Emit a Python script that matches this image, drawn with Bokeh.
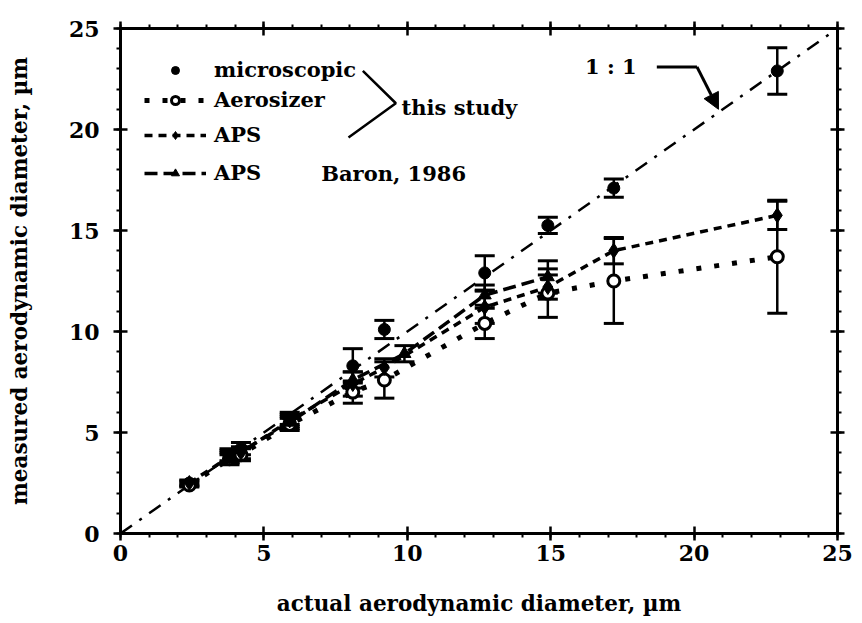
from bokeh.plotting import figure
from bokeh.models import (ColumnDataSource, Whisker, TeeHead, Legend, LegendItem,
                          Arrow, NormalHead, LinearAxis, Range1d, SingleIntervalTicker,
                          CustomJSTickFormatter)
from bokeh.core.properties import value
from bokeh.embed import file_html
from bokeh.resources import INLINE

# ---------------- data ----------------
x_actual = [2.4, 3.8, 4.2, 5.9, 8.1, 9.2, 12.7, 14.9, 17.2, 22.9]
micro_y = [2.5, 3.9, 4.2, 5.7, 8.3, 10.1, 12.9, 15.25, 17.1, 22.9]
micro_err = [0.15, 0.3, 0.3, 0.3, 0.85, 0.45, 0.85, 0.4, 0.45, 1.15]
aero_y = [2.4, 3.7, 3.9, 5.4, 7.0, 7.6, 10.4, 11.9, 12.5, 13.7]
aero_err = [0.1, 0.3, 0.3, 0.3, 0.55, 0.9, 0.75, 1.2, 2.1, 2.8]
aps_y = [2.5, 3.8, 4.0, 5.6, 7.4, 8.2, 11.2, 12.2, 14.0, 15.75]
aps_err = [0.1, 0.3, 0.3, 0.3, 0.6, 0.45, 0.8, 0.6, 0.65, 0.7]
baron_x = [3.8, 5.9, 8.1, 9.9, 12.7, 14.9]
baron_y = [3.7, 5.5, 7.6, 8.9, 11.8, 12.7]
baron_err = [0.2, 0.3, 0.4, 0.4, 0.5, 0.8]
one_to_one = [0, 25]

x_label = "actual aerodynamic diameter, µm"
y_label = "measured aerodynamic diameter, µm"

FONT = "DejaVu Serif"

p = figure(width=862, height=623, output_backend="svg", toolbar_location=None,
           x_range=Range1d(0, 25), y_range=Range1d(0, 25),
           min_border_left=120, min_border_right=25, min_border_top=28, min_border_bottom=90)
p.grid.visible = False
p.outline_line_color = None
p.background_fill_color = "white"
p.border_fill_color = "white"

def style_axis(ax, labels=True):
    ax.ticker = SingleIntervalTicker(interval=5, num_minor_ticks=5)
    ax.axis_line_width = 3
    ax.axis_line_color = "black"
    ax.major_tick_line_width = 2.5
    ax.minor_tick_line_width = 2
    ax.major_tick_in = 7
    ax.major_tick_out = 7
    ax.minor_tick_in = 0
    ax.minor_tick_out = 4
    ax.major_label_text_font = FONT
    ax.major_label_text_font_style = "bold"
    ax.major_label_text_font_size = "22px"
    ax.major_label_text_color = "black"
    ax.axis_label_text_font = FONT
    ax.axis_label_text_font_style = "bold"
    ax.axis_label_text_font_size = "21.5px"
    ax.axis_label_text_color = "black"
    if not labels:
        ax.formatter = CustomJSTickFormatter(code="return ''")
        ax.major_label_standoff = 0

style_axis(p.xaxis[0])
style_axis(p.yaxis[0])
p.xaxis[0].axis_label = x_label
p.yaxis[0].axis_label = y_label
p.xaxis[0].axis_label_standoff = 27
p.yaxis[0].axis_label_standoff = 34
p.xaxis[0].major_label_standoff = 4
p.yaxis[0].major_label_standoff = 14

top = LinearAxis()
right = LinearAxis()
style_axis(top, labels=False)
style_axis(right, labels=False)
p.add_layout(top, "above")
p.add_layout(right, "right")

# 1:1 line
p.line(one_to_one, one_to_one, line_color="black", line_width=2.5, line_dash="14 9 3 9")

# error bars
def add_err(xs, ys, es):
    src = ColumnDataSource(dict(x=xs, lo=[y - e for y, e in zip(ys, es)],
                                hi=[y + e for y, e in zip(ys, es)]))
    w = Whisker(source=src, base="x", lower="lo", upper="hi", dimension="height",
                line_color="black", line_width=2.5,
                upper_head=TeeHead(size=20, line_width=3, line_color="black"),
                lower_head=TeeHead(size=20, line_width=3, line_color="black"))
    p.add_layout(w)

add_err(x_actual, micro_y, micro_err)
add_err(x_actual, aero_y, aero_err)
add_err(x_actual, aps_y, aps_err)
add_err(baron_x, baron_y, baron_err)

aero_line = p.line(x_actual, aero_y, line_color="black", line_width=5, line_dash="5 13")
aps_line = p.line(x_actual, aps_y, line_color="black", line_width=3.5, line_dash="8 6")
baron_line = p.line(baron_x, baron_y, line_color="black", line_width=3.5, line_dash="13 6")

micro_r = p.scatter(x_actual, micro_y, marker="circle", size=12, fill_color="black", line_color="black")
aero_r = p.scatter(x_actual, aero_y, marker="circle", size=12, fill_color="white", line_color="black", line_width=3)
aps_r = p.scatter(x_actual, aps_y, marker="diamond", size=15, fill_color="black", line_color="black")
baron_r = p.scatter(baron_x, baron_y, marker="triangle", size=13, fill_color="black", line_color="black")

# legends (one row each, placed individually; offsets in screen px from frame bottom-left)
rows = [("microscopic", [micro_r], 451),
        ("Aerosizer", [aero_line, aero_r], 421),
        ("APS", [aps_line, aps_r], 386),
        ("APS", [baron_line, baron_r], 348)]
for lab, rends, yoff in rows:
    leg = Legend(items=[LegendItem(label=lab, renderers=rends)], location=(24, yoff),
                 padding=0, margin=0, spacing=0, border_line_color=None,
                 background_fill_alpha=0, glyph_width=62, glyph_height=20,
                 label_height=20, label_standoff=8, label_text_font=FONT,
                 label_text_font_style="bold", label_text_font_size="21px",
                 label_text_color="black")
    p.add_layout(leg)

# annotations
p.text(x=[9.8, 7.0], y=[21.1, 17.8], text=["this study", "Baron, 1986"],
       text_font=value(FONT), text_font_style="bold", text_font_size="21px",
       text_baseline="middle", text_color="black")
bracket_x = [8.45, 9.6, 7.95]
bracket_y = [22.9, 21.3, 19.6]
p.line(bracket_x, bracket_y, line_color="black", line_width=2.5)

p.text(x=[16.2], y=[23.1], text=["1 : 1"], text_font=value(FONT), text_font_style="bold",
       text_font_size="21px", text_baseline="middle", text_color="black")
arrow_x = [18.7, 20.1]
arrow_y = [23.1, 23.1]
p.line(arrow_x, arrow_y, line_color="black", line_width=3)
p.add_layout(Arrow(x_start=20.1, y_start=23.1, x_end=20.85, y_end=21.0,
                   line_color="black", line_width=3,
                   end=NormalHead(size=16, fill_color="black", line_color="black")))

open("out.html", "w").write(file_html(p, INLINE))
